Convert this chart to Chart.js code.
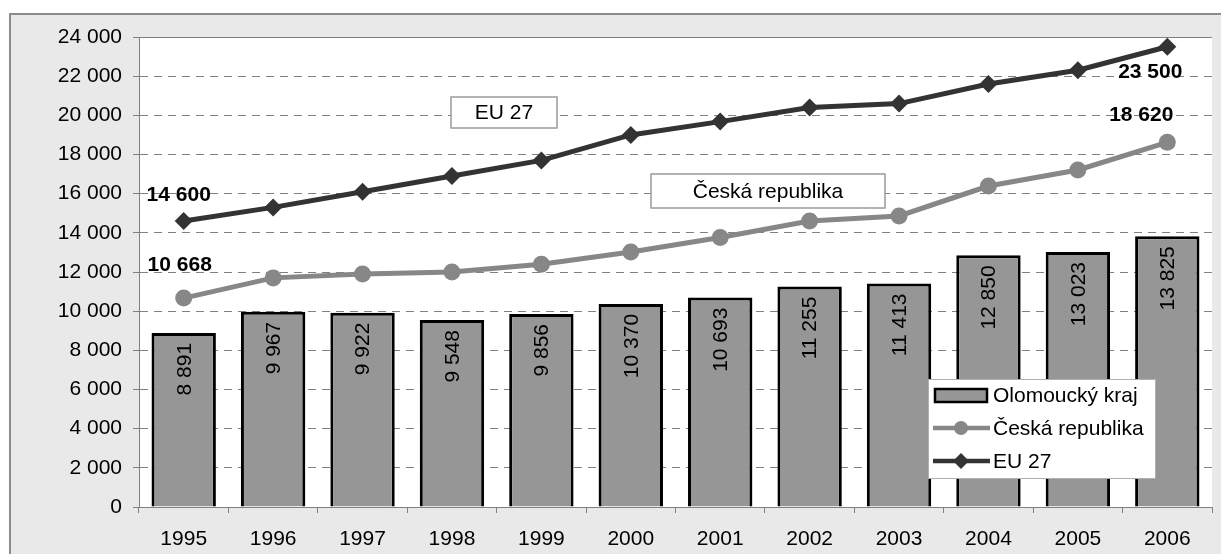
<!DOCTYPE html>
<html>
<head>
<meta charset="utf-8">
<script src="https://cdn.jsdelivr.net/npm/chart.js@4"></script>
<style>
  body { margin: 0; background: #fff; }
  #wrap { width: 1221px; height: 554px; }
</style>
</head>
<body>
<div id="wrap"><canvas id="chart"></canvas></div>
<script>
const years = ['1995','1996','1997','1998','1999','2000','2001','2002','2003','2004','2005','2006'];
const olomouc = [8891, 9967, 9922, 9548, 9856, 10370, 10693, 11255, 11413, 12850, 13023, 13825];
const cesko = [10668, 11700, 11900, 12000, 12400, 13020, 13760, 14600, 14860, 16390, 17210, 18620];
const eu27 = [14600, 15300, 16100, 16900, 17700, 19000, 19680, 20400, 20600, 21600, 22300, 23500];
const yTicks = [0, 2000, 4000, 6000, 8000, 10000, 12000, 14000, 16000, 18000, 20000, 22000, 24000];

const FONT = '"Liberation Sans", Arial, sans-serif';
const fmt = v => String(v).replace(/\B(?=(\d{3})+(?!\d))/g, ' ');

Chart.defaults.font.family = FONT;
Chart.defaults.font.size = 21;
Chart.defaults.color = '#000';

const framePlugin = {
  id: 'frame',
  beforeDraw(chart) {
    const { ctx, chartArea: a } = chart;
    ctx.save();
    ctx.fillStyle = '#fff';
    ctx.fillRect(0, 0, chart.width, chart.height);
    ctx.fillStyle = '#e9e9e9';
    ctx.fillRect(9, 13, chart.width, chart.height);
    ctx.strokeStyle = '#8c8c8c';
    ctx.lineWidth = 2;
    ctx.strokeRect(10, 14, chart.width + 10, chart.height + 10);
    ctx.fillStyle = '#fff';
    ctx.fillRect(a.left, a.top, a.width, a.height);
    ctx.restore();
  },
  beforeDatasetsDraw(chart) {
    const { ctx, chartArea: a } = chart;
    ctx.save();
    ctx.strokeStyle = '#808080';
    ctx.lineWidth = 1;
    ctx.beginPath();
    ctx.moveTo(a.left, a.top + 0.5);
    ctx.lineTo(a.right, a.top + 0.5);
    ctx.stroke();
    ctx.restore();
  }
};

function box(ctx, x, y, w, h, text) {
  ctx.fillStyle = '#fff';
  ctx.fillRect(x, y, w, h);
  ctx.strokeStyle = '#9a9a9a';
  ctx.lineWidth = 1.5;
  ctx.strokeRect(x, y, w, h);
  ctx.fillStyle = '#000';
  ctx.font = '21px ' + FONT;
  ctx.textAlign = 'center';
  ctx.textBaseline = 'middle';
  ctx.fillText(text, x + w / 2, y + h / 2 + 1);
}

const labelPlugin = {
  id: 'labels',
  afterDatasetsDraw(chart) {
    const { ctx } = chart;
    ctx.save();
    // rotated values inside bars
    const bars = chart.getDatasetMeta(2).data;
    ctx.font = '21px ' + FONT;
    ctx.fillStyle = '#000';
    bars.forEach((b, i) => {
      ctx.save();
      ctx.translate(b.x, b.y + 10);
      ctx.rotate(-Math.PI / 2);
      ctx.textAlign = 'right';
      ctx.textBaseline = 'middle';
      ctx.fillText(fmt(olomouc[i]), 0, 1);
      ctx.restore();
    });
    // first / last values of lines
    ctx.font = 'bold 21px ' + FONT;
    ctx.textAlign = 'center';
    ctx.textBaseline = 'middle';
    const eu = chart.getDatasetMeta(0).data;
    const cz = chart.getDatasetMeta(1).data;
    const n = years.length - 1;
    ctx.fillText(fmt(eu27[0]), eu[0].x - 5, eu[0].y - 26);
    ctx.fillText(fmt(cesko[0]), cz[0].x - 4, cz[0].y - 33);
    ctx.fillText(fmt(eu27[n]), eu[n].x - 17, eu[n].y + 25);
    ctx.fillText(fmt(cesko[n]), cz[n].x - 26, cz[n].y - 27);
    // callout boxes
    box(ctx, 451, 97, 106, 31, 'EU 27');
    box(ctx, 651, 174, 234, 34, 'Česká republika');
    // legend
    const lx = 928, ly = 379;
    ctx.fillStyle = '#fff';
    ctx.fillRect(lx, ly, 227, 99);
    ctx.strokeStyle = '#b0b0b0';
    ctx.lineWidth = 1;
    ctx.strokeRect(lx + 0.5, ly + 0.5, 227, 99);
    const rows = [395, 428, 461];
    ctx.fillStyle = '#969696';
    ctx.fillRect(935, rows[0] - 6, 52, 13);
    ctx.strokeStyle = '#000';
    ctx.lineWidth = 2.5;
    ctx.strokeRect(935, rows[0] - 6, 52, 13);
    [[1, '#878787', 'circle', 7], [0, '#333', 'rectRot', 8]].forEach(([ds, col, st, r], k) => {
      const y = rows[k + 1];
      ctx.strokeStyle = col;
      ctx.lineWidth = 4.5;
      ctx.beginPath();
      ctx.moveTo(933, y);
      ctx.lineTo(990, y);
      ctx.stroke();
      ctx.fillStyle = col;
      Chart.helpers.drawPoint(ctx, { pointStyle: st, radius: r, borderWidth: 0 }, 961, y);
    });
    ctx.fillStyle = '#000';
    ctx.font = '21px ' + FONT;
    ctx.textAlign = 'left';
    ctx.textBaseline = 'middle';
    chart.data.datasets.slice().reverse().forEach((d, k) => {
      ctx.fillText(d.label, 993, rows[k] + 1);
    });
    ctx.restore();
  }
};

new Chart(document.getElementById('chart'), {
  type: 'bar',
  data: {
    labels: years,
    datasets: [
      {
        type: 'line', label: 'EU 27', data: eu27, order: 0,
        borderColor: '#333', backgroundColor: '#333', borderWidth: 5,
        pointStyle: 'rectRot', pointRadius: 9, pointBorderWidth: 0,
        tension: 0
      },
      {
        type: 'line', label: 'Česká republika', data: cesko, order: 1,
        borderColor: '#878787', backgroundColor: '#878787', borderWidth: 5,
        pointStyle: 'circle', pointRadius: 8.5, pointBorderWidth: 0,
        tension: 0
      },
      {
        type: 'bar', label: 'Olomoucký kraj', data: olomouc, order: 2,
        backgroundColor: '#969696', borderColor: '#000', borderWidth: 3,
        barPercentage: 0.72, categoryPercentage: 1
      }
    ]
  },
  options: {
    responsive: true,
    maintainAspectRatio: false,
    animation: false,
    layout: { padding: { top: 37, right: 4, left: 0, bottom: 0 } },
    plugins: { legend: { display: false }, tooltip: { enabled: false } },
    scales: {
      x: {
        offset: true,
        grid: { drawOnChartArea: false, tickLength: 6, color: '#808080', offset: true },
        border: { color: '#808080', width: 1 },
        ticks: { padding: 14, maxRotation: 0 },
        afterFit: s => { s.height = 47; }
      },
      y: {
        min: 0, max: 24000,
        afterBuildTicks: s => { s.ticks = yTicks.map(v => ({ value: v })); },
        grid: { color: '#808080', tickBorderDash: [], tickLength: 6 },
        border: { color: '#808080', width: 1, dash: [8, 6] },
        ticks: { padding: 11, callback: v => fmt(v) },
        afterFit: s => { s.width = 139; }
      }
    }
  },
  plugins: [framePlugin, labelPlugin]
});
</script>
</body>
</html>
